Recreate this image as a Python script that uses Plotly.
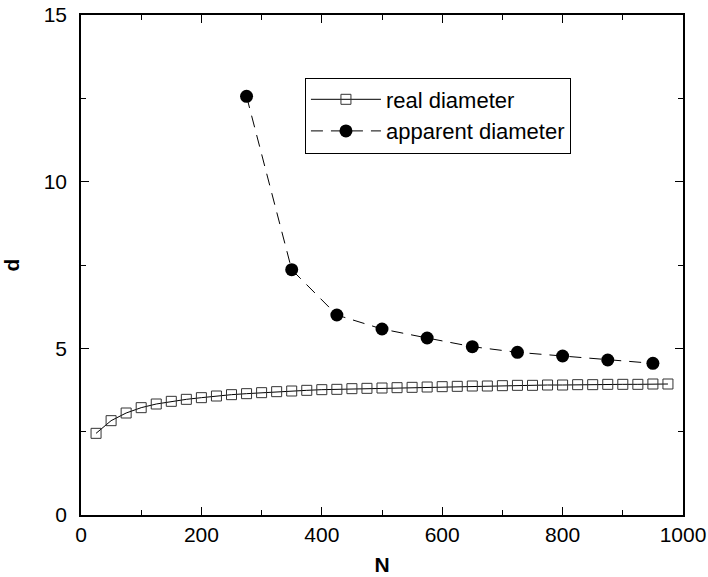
import plotly.graph_objects as go

# Real diameter data
real_N = [25, 50, 75, 100, 125, 150, 175, 200, 225, 250, 275, 300, 325, 350, 375,
          400, 425, 450, 475, 500, 525, 550, 575, 600, 625, 650, 675, 700, 725,
          750, 775, 800, 825, 850, 875, 900, 925, 950, 975]
real_d = [2.45, 2.83, 3.06, 3.22, 3.33, 3.41, 3.47, 3.52, 3.57, 3.61, 3.64, 3.67,
          3.70, 3.72, 3.74, 3.76, 3.77, 3.79, 3.80, 3.81, 3.82, 3.83, 3.84, 3.85,
          3.86, 3.87, 3.87, 3.88, 3.89, 3.89, 3.90, 3.90, 3.91, 3.91, 3.92, 3.92,
          3.92, 3.93, 3.93]

# Apparent diameter data
app_N = [275, 350, 425, 500, 575, 650, 725, 800, 875, 950]
app_d = [12.56, 7.36, 6.0, 5.58, 5.31, 5.05, 4.88, 4.77, 4.65, 4.55]

x_ticks = [0, 200, 400, 600, 800, 1000]
y_ticks = [0, 5, 10, 15]

FONT = "Liberation Sans, Arial, Helvetica, sans-serif"

fig = go.Figure()
fig.add_trace(go.Scatter(
    x=real_N, y=real_d, mode="lines+markers", name="real diameter",
    line=dict(color="black", width=1),
    marker=dict(symbol="square-open", size=10, color="#333333", line=dict(width=1)),
))
fig.add_trace(go.Scatter(
    x=app_N, y=app_d, mode="lines+markers", name="apparent diameter",
    line=dict(color="black", width=1, dash="12px,8px"),
    marker=dict(symbol="circle", size=13, color="black"),
))

axis_common = dict(
    showgrid=False, zeroline=False, showline=True, linecolor="black", linewidth=1.5,
    mirror="allticks", ticks="inside", ticklen=8, tickwidth=1, tickcolor="black",
    tickfont=dict(family=FONT, size=21, color="black"), automargin=False,
)

fig.update_xaxes(
    range=[0, 1000], tickvals=x_ticks, ticktext=[str(v) for v in x_ticks],
    minor=dict(dtick=100, ticks="inside", ticklen=5, tickcolor="black", showgrid=False),
    title=dict(text="<b>N</b>", font=dict(family=FONT, size=21, color="black"), standoff=12),
    **axis_common,
)
fig.update_yaxes(
    range=[0, 15], tickvals=y_ticks, ticktext=[str(v) for v in y_ticks],
    ticklabelstandoff=8,
    minor=dict(dtick=2.5, ticks="inside", ticklen=5, tickcolor="black", showgrid=False),
    title=dict(text="<b>d</b>", font=dict(family=FONT, size=21, color="black"), standoff=30),
    **axis_common,
)

fig.update_layout(
    width=708, height=577,
    margin=dict(l=81, r=25, t=15, b=62),
    plot_bgcolor="white", paper_bgcolor="white",
    showlegend=True,
    legend=dict(
        x=0.372, y=0.875, xanchor="left", yanchor="top",
        bgcolor="white", bordercolor="black", borderwidth=1,
        font=dict(family=FONT, size=22, color="black"),
        itemwidth=70, tracegroupgap=0,
    ),
)

fig.write_html("out.html", config={"displayModeBar": False},
               post_script="document.body.style.margin='0';")
